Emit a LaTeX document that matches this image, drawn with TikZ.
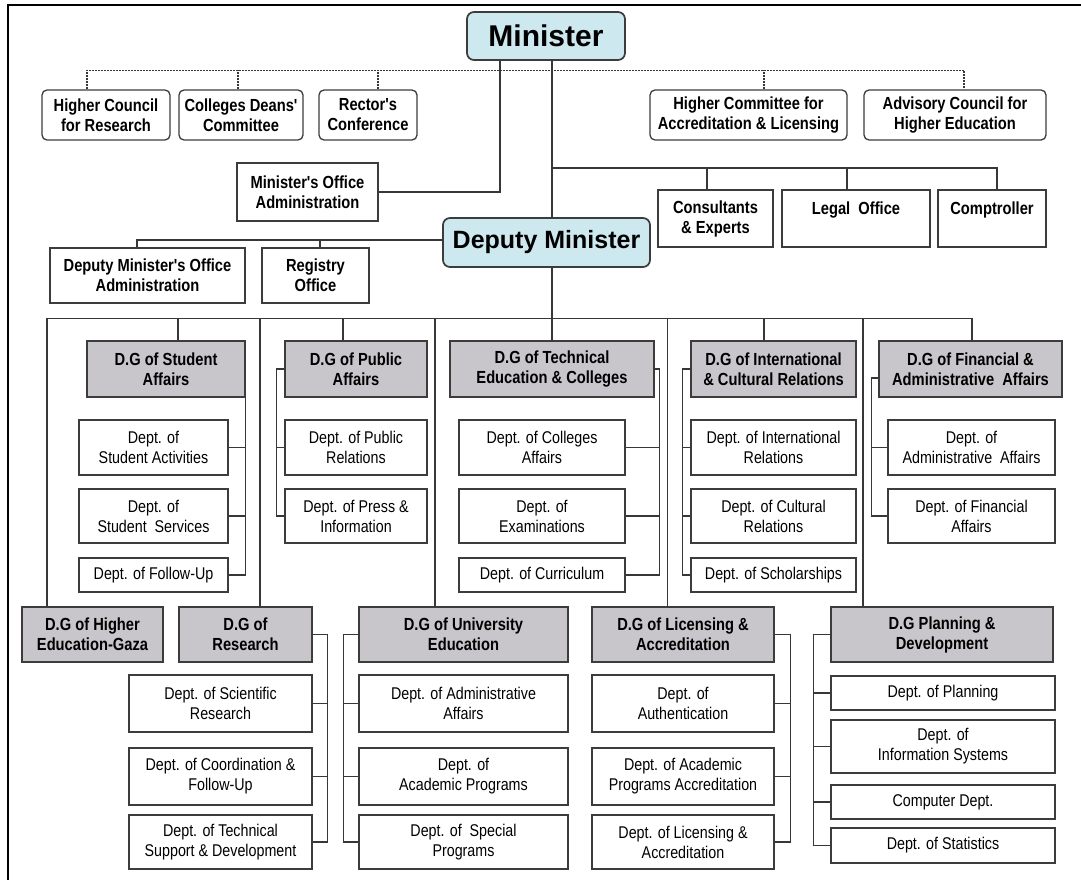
\documentclass[tikz,border=0pt]{standalone}
\usepackage{fontspec}
\setmainfont{Liberation Sans}
\newfontfamily\narrowsans[FakeStretch=0.84]{Liberation Sans}
\definecolor{chiefblue}{RGB}{205,232,238}
\definecolor{dggray}{RGB}{200,198,202}
\definecolor{edgegray}{RGB}{60,60,60}
\definecolor{linegray}{RGB}{55,55,55}

\begin{document}
\begin{tikzpicture}[x=1pt,y=-1pt,
  wh/.style 2 args={minimum width=#1pt,minimum height=#2pt},
  chief/.style={draw=edgegray,line width=1.7pt,rounded corners=7pt,fill=chiefblue,
    inner sep=0pt,font=\bfseries},
  council/.style={draw=edgegray,line width=1.3pt,rounded corners=5pt,align=center,
    inner sep=0pt,font=\narrowsans\bfseries\fontsize{17.5}{20}\selectfont},
  office/.style={draw=edgegray,line width=1.3pt,align=center,inner sep=0pt,
    font=\narrowsans\bfseries\fontsize{17.5}{20}\selectfont},
  dg/.style={office,fill=dggray},
  dept/.style={draw=edgegray,line width=1.3pt,align=center,inner sep=0pt,
    font=\narrowsans\fontsize{17}{20}\selectfont},
  link/.style={draw=linegray,line width=1.4pt},
  advisory/.style={draw=linegray,line width=1.2pt,dash pattern=on 2pt off 1pt}
]
  \useasboundingbox (0,0) rectangle (1081,880);
  % frame
  \draw[line width=2.2pt] (8,880) -- (8,5) -- (1081,5);

  % minister and councils
  \node[chief,wh={158}{48},font=\bfseries\fontsize{30}{34}\selectfont]
    (minister) at (546,36) {Minister};
  \node[council,wh={128}{50}] (hcr) at (106,115) {Higher Council\\for Research};
  \node[council,wh={124}{50}] (cdc) at (241,115) {Colleges Deans'\\Committee};
  \node[council,wh={98}{50}] (rcf) at (368,115) {Rector's\\Conference};
  \node[council,wh={197}{50}] (hcal) at (748.5,115)
    {Higher Committee for\\Accreditation \& Licensing};
  \node[council,wh={182}{50}] (achr) at (955,115)
    {Advisory Council for\\Higher Education};

  \node[office,wh={141}{58}] (moa) at (307.5,192) {Minister's Office\\Administration};
  \node[office,wh={115}{57}] (cex) at (715.5,218.5) {Consultants\\\& Experts};
  \node[office,wh={148}{57}] (legal) at (856,218.5) {Legal\ \ Office\\\mbox{}};
  \node[office,wh={108}{57}] (comp) at (992,218.5) {Comptroller\\\mbox{}};

  % deputy minister
  \node[chief,wh={207}{49},font=\bfseries\fontsize{25}{29}\selectfont]
    (deputy) at (546.5,242.5) {Deputy Minister};
  \node[office,wh={195}{55}] (dmoa) at (147.5,275.5)
    {Deputy Minister's Office\\Administration};
  \node[office,wh={107}{55}] (reg) at (315.5,275.5) {Registry\\Office};

  % directorates, upper row
  \node[dg,wh={158}{56}] (dgstu) at (166,369) {D.G of Student\\Affairs};
  \node[dg,wh={142}{56}] (dgpub) at (356,369) {D.G of Public\\Affairs};
  \node[dg,wh={204}{56}] (dgtec) at (552,369) {D.G of Technical\\Education \& Colleges};
  \node[dg,wh={165}{56}] (dgint) at (773.5,369)
    {D.G of International\\\& Cultural Relations};
  \node[dg,wh={183}{56}] (dgfin) at (970.5,369)
    {D.G of Financial \&\\Administrative\ \ Affairs};

  \node[dept,wh={149}{55}] (stu1) at (153.5,447.5) {Dept. of\\Student Activities};
  \node[dept,wh={149}{54}] (stu2) at (153.5,516) {Dept. of\\Student\ \ Services};
  \node[dept,wh={149}{34}] (stu3) at (153.5,575) {Dept. of Follow-Up};
  \node[dept,wh={142}{55}] (pub1) at (356,447.5) {Dept. of Public\\Relations};
  \node[dept,wh={142}{54}] (pub2) at (356,516) {Dept. of Press \&\\Information};
  \node[dept,wh={166}{55}] (tec1) at (542,447.5) {Dept. of Colleges\\Affairs};
  \node[dept,wh={166}{54}] (tec2) at (542,516) {Dept. of\\Examinations};
  \node[dept,wh={166}{34}] (tec3) at (542,575) {Dept. of Curriculum};
  \node[dept,wh={165}{55}] (int1) at (773.5,447.5) {Dept. of International\\Relations};
  \node[dept,wh={165}{54}] (int2) at (773.5,516) {Dept. of Cultural\\Relations};
  \node[dept,wh={165}{34}] (int3) at (773.5,575) {Dept. of Scholarships};
  \node[dept,wh={167}{55}] (fin1) at (971.5,447.5) {Dept. of\\Administrative\ \ Affairs};
  \node[dept,wh={167}{54}] (fin2) at (971.5,516) {Dept. of Financial\\Affairs};

  % directorates, lower row
  \node[dg,wh={141}{55}] (dggaza) at (92.5,634.5) {D.G of Higher\\Education-Gaza};
  \node[dg,wh={133}{55}] (dgres) at (245.5,634.5) {D.G of\\Research};
  \node[dg,wh={209}{55}] (dguni) at (463.5,634.5) {D.G of University\\Education};
  \node[dg,wh={182}{55}] (dglic) at (683,634.5) {D.G of Licensing \&\\Accreditation};
  \node[dg,wh={222}{55}] (dgplan) at (942,634.5) {D.G Planning \&\\Development};

  \node[dept,wh={183}{57}] (res1) at (220.5,703.5) {Dept. of Scientific\\Research};
  \node[dept,wh={183}{57}] (res2) at (220.5,776.5) {Dept. of Coordination \&\\Follow-Up};
  \node[dept,wh={183}{54}] (res3) at (220.5,842)
    {Dept. of Technical\\Support \& Development};
  \node[dept,wh={209}{57}] (uni1) at (463.5,703.5) {Dept. of Administrative\\Affairs};
  \node[dept,wh={209}{57}] (uni2) at (463.5,776.5) {Dept. of\\Academic Programs};
  \node[dept,wh={209}{54}] (uni3) at (463.5,842) {Dept. of\ \ Special\\Programs};
  \node[dept,wh={182}{57}] (lic1) at (683,703.5) {Dept. of\\Authentication};
  \node[dept,wh={182}{57}] (lic2) at (683,776.5) {Dept. of Academic\\Programs Accreditation};
  \node[dept,wh={182}{54}] (lic3) at (683,842) {Dept. of Licensing \&\\Accreditation};
  \node[dept,wh={224}{34}] (plan1) at (943,693) {Dept. of Planning};
  \node[dept,wh={224}{53}] (plan2) at (943,746.5) {Dept. of\\Information Systems};
  \node[dept,wh={224}{34}] (plan3) at (943,802) {Computer Dept.};
  \node[dept,wh={224}{35}] (plan4) at (943,845.5) {Dept. of Statistics};

  % advisory bodies
  \draw[advisory] ([xshift=-19pt]hcr.north) -- ++(0,-19) -| ([xshift=9pt]achr.north);
  \foreach \n/\dx in {cdc/-3,rcf/10,hcal/15.5}
    \draw[advisory] ([xshift=\dx pt]\n.north) -- ++(0,-19);

  % minister's offices
  \draw[link] (moa.east) -| ([xshift=-46pt]minister.south);
  \draw[link] ([xshift=6pt]minister.south) -- ([xshift=5.5pt]deputy.north);
  \coordinate (cbus) at (552,168);
  \draw[link] (cbus) -| ([xshift=5pt]comp.north);
  \draw[link] ([xshift=-8.5pt]cex.north) -- ++(0,-22);
  \draw[link] ([xshift=-9pt]legal.north) -- ++(0,-22);

  % deputy's offices
  \draw[link] ([yshift=2.5pt]deputy.west) -| ([xshift=-10.5pt]dmoa.north);
  \draw[link] ([xshift=4.5pt]reg.north) -- ++(0,-8);

  % directorates bus
  \draw[link] ([xshift=5.5pt]deputy.south) -- (dgtec.north);
  \draw[link] ([xshift=-45.5pt]dggaza.north) -- ++(0,-288) -| ([xshift=1.5pt]dgfin.north);
  \foreach \n/\dx/\h in {dgstu/12/21,dgres/14.5/288,dgpub/-13/21,dguni/-28.5/288,
      dglic/-15.5/288,dgint/-9.5/21,dgplan/-79/288}
    \draw[link] ([xshift=\dx pt]\n.north) -- ++(0,-\h);

  % departments under each directorate
  \draw[link] (stu3.east) -| (dgstu.south east);
  \foreach \n in {stu1,stu2} \draw[link] (\n.east) -- ++(17,0);
  \draw[link] (dgpub.west) -- ++(-8,0) |- (pub2.west);
  \draw[link] (pub1.west) -- ++(-8,0);
  \draw[link] (dgtec.east) -- ++(5,0) |- (tec3.east);
  \foreach \n in {tec1,tec2} \draw[link] (\n.east) -- ++(34,0);
  \draw[link] (dgint.west) -- ++(-8,0) |- (int3.west);
  \foreach \n in {int1,int2} \draw[link] (\n.west) -- ++(-8,0);
  \draw[link] ([yshift=-9pt]dgfin.west) -- ++(-7,0) |- (fin2.west);
  \draw[link] (fin1.west) -- ++(-16,0);

  \draw[link] (dgres.east) -- ++(15,0) |- (res3.east);
  \foreach \n in {res1,res2} \draw[link] (\n.east) -- ++(15,0);
  \draw[link] (dguni.west) -- ++(-15,0) |- (uni3.west);
  \foreach \n in {uni1,uni2} \draw[link] (\n.west) -- ++(-15,0);
  \draw[link] (dglic.east) -- ++(16,0) |- (lic3.east);
  \foreach \n in {lic1,lic2} \draw[link] (\n.east) -- ++(16,0);
  \draw[link] (dgplan.west) -- ++(-17,0) |- (plan4.west);
  \foreach \n in {plan1,plan2,plan3} \draw[link] (\n.west) -- ++(-17,0);
\end{tikzpicture}
\end{document}
